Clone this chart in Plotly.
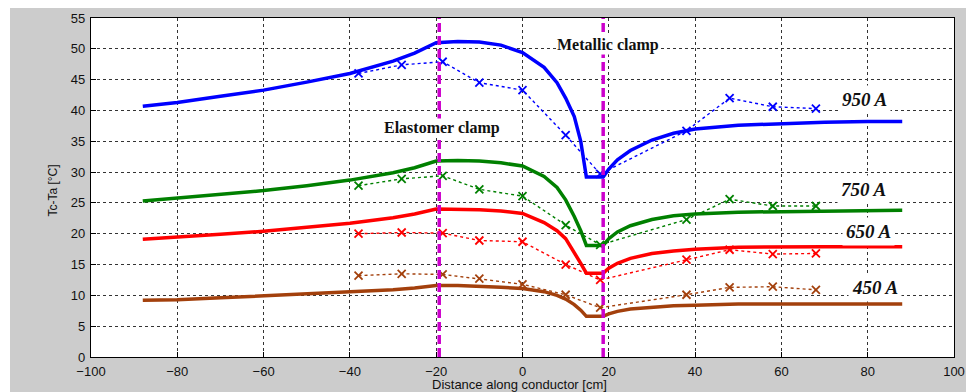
import plotly.graph_objects as go

# ---- data ----
model_x = [-88, -80, -70, -60, -50, -40, -30, -25, -20, -15, -10, -5, 0, 5, 8, 10, 12, 13.5, 14.8, 18.7,
           20, 22, 25, 30, 35, 40, 50, 60, 70, 80, 88]
model_950 = [40.7, 41.3, 42.3, 43.3, 44.6, 46.0, 48.0, 49.3, 51.0, 51.2, 51.1, 50.6, 49.4, 47.0, 44.5, 42.0, 39.0, 35.0, 29.2, 29.2,
             30.5, 32.0, 33.5, 35.2, 36.3, 37.0, 37.6, 37.9, 38.1, 38.2, 38.2]
model_750 = [25.3, 25.8, 26.4, 27.0, 27.8, 28.7, 29.9, 30.7, 31.8, 31.9, 31.8, 31.5, 31.0, 29.3, 27.5, 25.5, 22.8, 20.5, 18.1, 18.1,
             19.2, 20.3, 21.3, 22.3, 22.9, 23.2, 23.5, 23.6, 23.7, 23.8, 23.8]
model_650 = [19.1, 19.4, 19.9, 20.4, 21.0, 21.7, 22.6, 23.2, 24.0, 24.0, 23.9, 23.7, 23.3, 21.8, 20.5, 19.2, 17.0, 15.2, 13.6, 13.6,
             14.4, 15.2, 16.0, 16.8, 17.2, 17.5, 17.8, 17.9, 17.9, 17.9, 17.9]
model_450 = [9.2, 9.3, 9.6, 9.9, 10.2, 10.5, 10.9, 11.2, 11.6, 11.6, 11.5, 11.3, 11.1, 10.6, 10.0, 9.4, 8.5, 7.6, 6.6, 6.6,
             7.0, 7.4, 7.8, 8.1, 8.3, 8.4, 8.6, 8.6, 8.6, 8.6, 8.6]

meas_x = [-38, -28, -18.5, -10, 0, 10, 18, 38, 48, 58, 68]
meas_950 = [46.0, 47.4, 47.9, 44.5, 43.3, 36.0, 29.7, 36.7, 42.0, 40.6, 40.3]
meas_750 = [27.8, 28.9, 29.4, 27.2, 26.1, 21.4, 18.2, 22.3, 25.6, 24.5, 24.5]
meas_650 = [20.0, 20.2, 20.1, 18.9, 18.7, 15.0, 12.5, 15.8, 17.4, 16.7, 16.8]
meas_450 = [13.2, 13.5, 13.4, 12.7, 11.8, 10.1, 8.0, 10.1, 11.3, 11.4, 10.9]

clamp_x = [-19.3, 18.7]
clamp_names = ["Elastomer clamp", "Metallic clamp"]
series_labels = ["950 A", "750 A", "650 A", "450 A"]

x_ticks = [-100, -80, -60, -40, -20, 0, 20, 40, 60, 80, 100]
y_ticks = [0, 5, 10, 15, 20, 25, 30, 35, 40, 45, 50, 55]

x_title = "Distance along conductor [cm]"
y_title = "Tc-Ta [°C]"

colors = ["#0000ff", "#008000", "#ff0000", "#a3400c"]

fig = go.Figure()

models = [model_950, model_750, model_650, model_450]
meas = [meas_950, meas_750, meas_650, meas_450]

for m, c in zip(meas, colors):
    fig.add_trace(go.Scatter(x=meas_x, y=m, mode="lines+markers",
                             line=dict(color=c, width=1.4, dash="dot"),
                             marker=dict(symbol="x-thin", size=8, line=dict(color=c, width=1.8)),
                             showlegend=False, hoverinfo="skip"))
for m, c in zip(models, colors):
    fig.add_trace(go.Scatter(x=model_x, y=m, mode="lines",
                             line=dict(color=c, width=3.5),
                             showlegend=False, hoverinfo="skip"))

# vertical clamp lines
for cx in clamp_x:
    fig.add_trace(go.Scatter(x=[cx, cx], y=[0, 55], mode="lines",
                             line=dict(color="#cc00cc", width=3.5, dash="9px,4px"),
                             showlegend=False, hoverinfo="skip"))

# thin white strip on the far left of the grey frame
fig.add_shape(type="rect", xref="paper", yref="paper", x0=-0.2, x1=(2 - 83) / 863, y0=-0.3, y1=1.3,
              fillcolor="white", line=dict(width=0), layer="below")

# clamp annotations
fig.add_annotation(x=-18.6, y=37.2, text="<b>" + clamp_names[0] + "</b>", showarrow=False,
                   font=dict(family="Liberation Serif", size=16, color="#111"),
                   bgcolor="white", borderpad=0)
fig.add_annotation(x=19.8, y=50.6, text="<b>" + clamp_names[1] + "</b>", showarrow=False,
                   font=dict(family="Liberation Serif", size=16, color="#111"),
                   bgcolor="white", borderpad=0)

label_pos = [(79.3, 41.8), (79.1, 27.2), (80.3, 20.3), (81.6, 11.3)]
for (lx, ly), t in zip(label_pos, series_labels):
    fig.add_annotation(x=lx, y=ly, text="<b><i>" + t + "</i></b>", showarrow=False,
                       font=dict(family="Liberation Serif", size=19, color="#111"),
                       bgcolor="white", borderpad=3)

# axis titles as annotations
fig.add_annotation(xref="paper", yref="paper", x=(53 - 91) / 863, y=0.491, text=y_title,
                   textangle=-90, showarrow=False, xanchor="center", yanchor="middle",
                   font=dict(family="Liberation Sans", size=12, color="#111"))
fig.add_annotation(xref="paper", yref="paper", x=0.497, y=-0.0811, text=x_title,
                   showarrow=False, xanchor="center", yanchor="middle",
                   font=dict(family="Liberation Sans", size=13, color="#111"))

axis_common = dict(showline=True, linecolor="black", linewidth=1.2, mirror=True,
                   ticks="inside", ticklen=5, tickcolor="black",
                   showgrid=True, gridcolor="#333", gridwidth=1,
                   zeroline=False, automargin=False)

fig.update_xaxes(range=[-100, 100], tickvals=x_ticks, griddash="dot", ticklabelstandoff=2,
                 tickfont=dict(family="Liberation Sans", size=13, color="#111"),
                 **axis_common)
fig.update_yaxes(range=[0, 55], tickvals=y_ticks, griddash="3px,3px", ticklabelstandoff=2,
                 tickfont=dict(family="Liberation Sans", size=13, color="#111"),
                 **axis_common)

# page adds an 8px body margin, so the figure is 8px smaller and offsets shifted
fig.update_layout(width=966, height=384,
                  margin=dict(l=83, r=20, t=10, b=35),
                  paper_bgcolor="#cccccc", plot_bgcolor="white",
                  showlegend=False)

fig.write_html("out.html")
